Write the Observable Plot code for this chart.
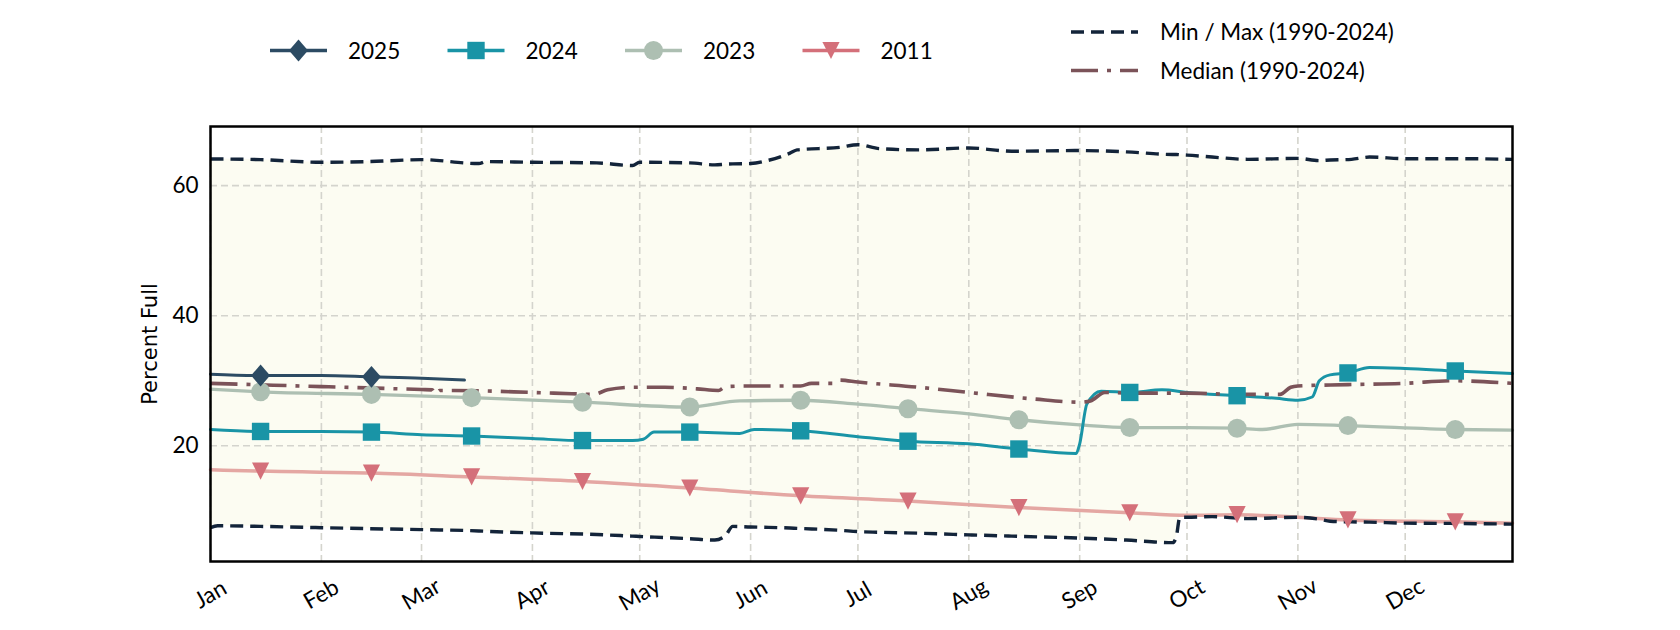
<!DOCTYPE html>
<html>
<head>
<meta charset="utf-8">
<script src="https://cdn.jsdelivr.net/npm/d3@7"></script>
<script src="https://cdn.jsdelivr.net/npm/@observablehq/plot@0.6"></script>
<style>
  html, body { margin: 0; padding: 0; background: #fff; }
  #chart { width: 1680px; height: 630px; }
</style>
</head>
<body>
<div id="chart"></div>
<script>
// ---------------- DATA ----------------
const baseYear = 2023; // day-of-year axis (non-leap)

const monthNames = ["Jan","Feb","Mar","Apr","May","Jun","Jul","Aug","Sep","Oct","Nov","Dec"];
const yTicks = [20, 40, 60];
const yLabel = "Percent Full";

const seriesLabels = ["2025", "2024", "2023", "2011"];
const referenceLabels = ["Min / Max (1990-2024)", "Median (1990-2024)"];

// Min / Max envelope (1990-2024)
const envelopeDates = ["01-01","01-03","01-15","02-01","02-14","03-01","03-17","03-19","04-01","04-19","04-29","05-01","05-15","05-22","05-25","05-27","06-01","06-06","06-12","06-14","06-26","07-01","07-07","07-18","08-01","08-13","09-01","09-14","09-27","09-28","09-29","10-01","10-08","10-18","11-01","11-07","11-10","11-16","11-21","12-01","12-15","12-31"];
const envelopeMax = [64.1,64.1,64.0,63.6,63.7,64.0,63.4,63.7,63.6,63.5,63.1,63.6,63.5,63.2,63.3,63.35,63.4,63.9,65.0,65.5,65.9,66.3,65.7,65.5,65.8,65.3,65.4,65.2,64.8,64.8,64.75,64.7,64.4,64.05,64.2,63.85,63.95,64.05,64.4,64.15,64.15,64.05];
const envelopeMin = [7.4,7.7,7.6,7.4,7.25,7.1,6.9,6.85,6.6,6.35,6.1,6.05,5.7,5.5,6.2,7.6,7.5,7.45,7.35,7.3,7.0,6.8,6.7,6.55,6.3,6.1,5.8,5.5,5.1,6.0,9.0,9.0,9.1,8.8,9.0,8.7,8.4,8.3,8.25,8.1,8.05,7.95];

// Median (1990-2024)
const medianDates = ["01-01","02-01","03-01","03-04","03-05","03-06","03-10","04-01","04-12","04-18","04-22","04-29","05-08","05-17","05-23","05-25","06-01","06-15","06-18","06-24","06-26","07-01","07-18","08-01","08-19","09-01","09-04","09-08","09-15","10-01","10-15","10-27","10-30","11-01","11-15","12-01","12-14","12-31"];
const medianValues = [29.6,29.1,28.65,28.6,27.95,28.5,28.5,28.2,28.0,27.9,28.6,29.0,29.0,28.75,28.5,29.1,29.2,29.2,29.6,29.6,30.1,29.8,29.0,28.2,27.2,26.7,26.9,28.2,28.1,28.1,27.9,27.9,29.0,29.2,29.4,29.6,30.0,29.6];

// 2025
const dates2025 = ["01-01","01-15","02-01","02-15","03-01","03-13"];
const values2025 = [31.0,30.8,30.8,30.6,30.4,30.1];

// 2024
const dates2024 = ["01-01","01-15","02-01","02-15","03-01","03-15","04-01","04-15","04-29","05-02","05-05","05-15","05-29","06-02","06-15","07-01","07-15","08-01","08-15","08-31","09-01","09-03","09-07","09-15","09-24","10-01","10-15","10-26","11-01","11-05","11-07","11-10","11-15","11-21","12-01","12-15","12-31"];
const values2024 = [22.5,22.2,22.2,22.1,21.7,21.5,21.1,20.8,20.8,21.0,22.1,22.1,21.9,22.5,22.3,21.4,20.7,20.3,19.5,18.8,20.3,26.4,28.4,28.2,28.6,28.2,27.7,27.3,27.0,27.5,30.0,30.9,31.2,32.05,31.9,31.5,31.1];

// 2023
const dates2023 = ["01-01","01-15","02-15","03-15","04-15","05-15","05-29","06-15","07-01","07-15","08-01","08-15","09-01","09-15","10-01","10-15","10-22","11-01","11-15","12-15","12-31"];
const values2023 = [28.7,28.3,27.9,27.4,26.7,25.95,26.9,27.0,26.4,25.7,24.9,24.0,23.2,22.8,22.8,22.7,22.5,23.3,23.1,22.5,22.4];

// 2011
const dates2011 = ["01-01","01-15","02-15","03-15","04-15","05-15","06-15","07-15","08-15","09-15","10-01","10-15","11-01","11-15","12-15","12-31"];
const values2011 = [16.3,16.1,15.8,15.2,14.5,13.5,12.3,11.5,10.5,9.7,9.3,9.4,9.0,8.6,8.3,8.1];

// ---------------- STYLE ----------------
const colors = {
  "2025": "#2c4b63",
  "2024": "#1994a6",
  "2023": "#adbfb2",
  "2011": "#d4707a",
  "2011line": "#e4a7a3",
  minmax: "#13243a",
  median: "#7b5359",
  band: "#fcfcf2",
  grid: "#d4d4cd"
};
const tickFont = "Lato, 'Open Sans', sans-serif";
const fs = 22.5;

// custom marker symbols (size = PI r^2 as given by Plot)
const squareSym = { draw(ctx, size) { const r = Math.sqrt(size / Math.PI); ctx.rect(-r, -r, 2 * r, 2 * r); } };
const triDownSym = { draw(ctx, size) { const r = Math.sqrt(size / Math.PI); ctx.moveTo(0, r); ctx.lineTo(-r, -r); ctx.lineTo(r, -r); ctx.closePath(); } };
const diamondSym = { draw(ctx, size) { const r = Math.sqrt(size / Math.PI); ctx.moveTo(0, -1.15 * r); ctx.lineTo(r, 0); ctx.lineTo(0, 1.15 * r); ctx.lineTo(-r, 0); ctx.closePath(); } };

// ---------------- TABLES ----------------
const parse = s => new Date(Date.UTC(baseYear, +s.slice(0, 2) - 1, +s.slice(3, 5)));
const rows = (dates, values) => dates.map((d, i) => ({ date: parse(d), value: values[i], mid: d.endsWith("-15") }));

const envelope = envelopeDates.map((d, i) => ({ date: parse(d), min: envelopeMin[i], max: envelopeMax[i] }));
const median = rows(medianDates, medianValues);
const s2025 = rows(dates2025, values2025);
const s2024 = rows(dates2024, values2024);
const s2023 = rows(dates2023, values2023);
const s2011 = rows(dates2011, values2011);
const monthStarts = monthNames.map((m, i) => ({ date: new Date(Date.UTC(baseYear, i, 1)), name: m }));

const curve = "monotone-x";

const chart = Plot.plot({
  width: 1680,
  height: 630,
  marginLeft: 210,
  marginRight: 168,
  marginTop: 126,
  marginBottom: 69,
  style: { fontFamily: tickFont, fontSize: fs + "px", background: "#fff", color: "#000", overflow: "visible" },
  x: { type: "utc", domain: [parse("01-01"), parse("12-31")], axis: null },
  y: { domain: [2.2, 69.1], axis: null },
  marks: [
    Plot.areaY(envelope, { x: "date", y1: "min", y2: "max", fill: colors.band, curve }),
    Plot.ruleX(monthStarts, { x: "date", stroke: colors.grid, strokeWidth: 1.6, strokeDasharray: "7,4" }),
    Plot.ruleY(yTicks, { y: d => d, stroke: colors.grid, strokeWidth: 1.6, strokeDasharray: "7,4" }),

    Plot.line(s2011, { x: "date", y: "value", stroke: colors["2011line"], strokeWidth: 3.5, curve }),
    Plot.line(s2023, { x: "date", y: "value", stroke: colors["2023"], strokeWidth: 3.3, curve }),
    Plot.line(s2024, { x: "date", y: "value", stroke: colors["2024"], strokeWidth: 3, curve }),
    Plot.line(s2025, { x: "date", y: "value", stroke: colors["2025"], strokeWidth: 3, curve }),

    Plot.line(envelope, { x: "date", y: "max", stroke: colors.minmax, strokeWidth: 3.4, strokeDasharray: "13,7", strokeLinecap: "butt", curve }),
    Plot.line(envelope, { x: "date", y: "min", stroke: colors.minmax, strokeWidth: 3.4, strokeDasharray: "13,7", strokeLinecap: "butt", curve }),
    Plot.line(median, { x: "date", y: "value", stroke: colors.median, strokeWidth: 3.6, strokeDasharray: "27,9,4,9", strokeLinecap: "butt", curve }),

    Plot.dot(s2011.filter(d => d.mid), { x: "date", y: "value", symbol: triDownSym, r: 8.6, fill: colors["2011"] }),
    Plot.dot(s2023.filter(d => d.mid), { x: "date", y: "value", symbol: "circle", r: 9.5, fill: colors["2023"] }),
    Plot.dot(s2024.filter(d => d.mid), { x: "date", y: "value", symbol: squareSym, r: 8.7, fill: colors["2024"] }),
    Plot.dot(s2025.filter(d => d.mid), { x: "date", y: "value", symbol: diamondSym, r: 9.5, fill: colors["2025"] }),

    Plot.frame({ stroke: "#000", strokeWidth: 2.5 }),
    Plot.axisY(yTicks, { tickSize: 0, tickPadding: 12, fontSize: fs, label: null }),
    Plot.text(monthStarts, { x: "date", text: "name", frameAnchor: "bottom", dy: 33, rotate: -30, textAnchor: "middle", lineAnchor: "middle", fontSize: fs }),
    Plot.text([yLabel], { frameAnchor: "left", dx: -60, rotate: -90, textAnchor: "middle", lineAnchor: "middle", fontSize: 21, fontFamily: "'DejaVu Sans', sans-serif" })
  ]
});

document.getElementById("chart").appendChild(chart);

// ---------------- LEGEND ----------------
const svg = d3.select(chart);
const lg = svg.append("g").attr("font-family", tickFont).attr("font-size", fs).attr("fill", "#000").attr("text-anchor", "start");

const legendSeries = [
  { label: seriesLabels[0], line: colors["2025"], marker: colors["2025"], symbol: diamondSym, r: 9.5 },
  { label: seriesLabels[1], line: colors["2024"], marker: colors["2024"], symbol: squareSym, r: 8.7 },
  { label: seriesLabels[2], line: colors["2023"], marker: colors["2023"], symbol: d3.symbolCircle, r: 9.5 },
  { label: seriesLabels[3], line: colors["2011"], marker: colors["2011"], symbol: triDownSym, r: 8.6 }
];
legendSeries.forEach((s, i) => {
  const x0 = 270 + i * 177.5, y0 = 50.5;
  lg.append("line").attr("x1", x0).attr("x2", x0 + 57).attr("y1", y0).attr("y2", y0)
    .attr("stroke", s.line).attr("stroke-width", 3.3);
  lg.append("path").attr("d", d3.symbol(s.symbol, Math.PI * s.r * s.r)())
    .attr("transform", `translate(${x0 + 28.5},${y0})`).attr("fill", s.marker);
  lg.append("text").attr("x", x0 + 78).attr("y", y0).attr("dy", "0.36em").attr("text-anchor", "start").text(s.label);
});

const legendRefs = [
  { label: referenceLabels[0], stroke: colors.minmax, dash: "13,7", y: 32 },
  { label: referenceLabels[1], stroke: colors.median, dash: "27,9,4,9", y: 70.5 }
];
legendRefs.forEach(s => {
  lg.append("line").attr("x1", 1071).attr("x2", 1138).attr("y1", s.y).attr("y2", s.y)
    .attr("stroke", s.stroke).attr("stroke-width", 3.4).attr("stroke-dasharray", s.dash);
  lg.append("text").attr("x", 1160).attr("y", s.y).attr("dy", "0.36em").attr("text-anchor", "start").text(s.label);
});
</script>
</body>
</html>
